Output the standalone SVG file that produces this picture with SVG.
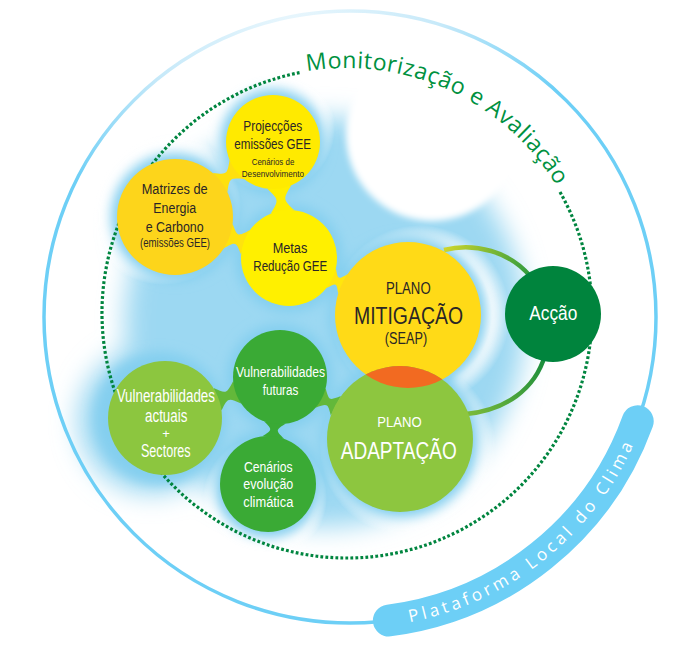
<svg xmlns="http://www.w3.org/2000/svg" width="697" height="646" viewBox="0 0 697 646">
<defs>
<style>
.t{font-family:"Liberation Sans",Arial,sans-serif;text-anchor:middle}
.dk{fill:#2A2626}
.wh{fill:#FFFFFF}
.mon{font-family:"Open Sans","Noto Sans",sans-serif;font-size:23px;fill:#00913F;letter-spacing:0.5px}
.plat{font-family:"Open Sans","Noto Sans",sans-serif;font-size:17px;fill:#FFFFFF;letter-spacing:3.7px}
</style>
<radialGradient id="outerGrad" gradientUnits="userSpaceOnUse" cx="290" cy="0" r="280">
<stop offset="0" stop-color="#EAF7FD"/>
<stop offset="0.55" stop-color="#C6E9F9"/>
<stop offset="1" stop-color="#6DCFF6"/>
</radialGradient>
<radialGradient id="halo">
<stop offset="0" stop-color="#FFFFFF"/>
<stop offset="0.8" stop-color="#FFFFFF"/>
<stop offset="1" stop-color="#FFFFFF" stop-opacity="0"/>
</radialGradient>
<linearGradient id="arcTop" gradientUnits="userSpaceOnUse" x1="444" y1="250" x2="530" y2="276">
<stop offset="0" stop-color="#CFD62B"/>
<stop offset="1" stop-color="#2E9B3E"/>
</linearGradient>
<linearGradient id="arcBot" gradientUnits="userSpaceOnUse" x1="545" y1="355" x2="466" y2="414">
<stop offset="0" stop-color="#168C3D"/>
<stop offset="1" stop-color="#7DBB3A"/>
</linearGradient>
<filter id="bl" x="-50%" y="-50%" width="200%" height="200%"><feGaussianBlur stdDeviation="13"/></filter>
<filter id="gl" x="-30%" y="-30%" width="160%" height="160%"><feGaussianBlur stdDeviation="6"/></filter>
<filter id="sb" x="-20%" y="-20%" width="140%" height="140%"><feGaussianBlur stdDeviation="3"/></filter>
<clipPath id="mitClip"><circle cx="408" cy="315" r="73"/></clipPath>
<path id="monPath" d="M307,71.3 A245,245 0 0 1 592,313"/>
<path id="platPath" d="M404,623.3 A311,311 0 0 0 650.4,397.5"/>
</defs>

<rect width="697" height="646" fill="#FFFFFF"/>

<g id="background">
<g filter="url(#bl)" fill="#9CD8F2">
<ellipse cx="325" cy="322" rx="200" ry="205"/>
<circle cx="185" cy="225" r="62"/>
<circle cx="152" cy="420" r="74"/>
</g>
<circle cx="432" cy="135" r="86" fill="#FFFFFF" filter="url(#sb)"/>
<circle cx="163" cy="207" r="78" fill="url(#halo)"/>
<circle cx="271" cy="128" r="64" fill="url(#halo)"/>
<circle cx="420" cy="315" r="90" fill="url(#halo)"/>
<circle cx="408" cy="448" r="88" fill="url(#halo)"/>
<circle cx="265" cy="498" r="62" fill="url(#halo)"/>
<g filter="url(#gl)" fill="#84CFEF">
<circle cx="175" cy="217" r="64"/>
<circle cx="273" cy="142" r="53"/>
<circle cx="289" cy="258" r="54"/>
<circle cx="408" cy="315" r="79"/>
<circle cx="160" cy="418" r="66"/>
<circle cx="280" cy="377" r="53"/>
<circle cx="268" cy="484" r="54"/>
<circle cx="400" cy="439" r="79"/>
</g>
</g>

<g id="frame">
<circle cx="350" cy="317" r="306" fill="none" stroke="url(#outerGrad)" stroke-width="3.5"/>
<path d="M560,192 A245,245 0 1 1 299.8,72.6" fill="none" stroke="#00853F" stroke-width="3.2" stroke-dasharray="2.8 2.2"/>
<text class="mon"><textPath href="#monPath">Monitorização</textPath></text>
<text class="mon"><textPath href="#monPath" startOffset="166.2">e</textPath></text>
<text class="mon"><textPath href="#monPath" startOffset="186.1">Avaliação</textPath></text>
<path d="M388.9,620.5 A306,306 0 0 0 637.7,421.2" fill="none" stroke="#6DCFF6" stroke-width="32" stroke-linecap="round"/>
<text class="plat"><textPath href="#platPath" startOffset="6">Plataforma</textPath></text>
<text class="plat"><textPath href="#platPath" startOffset="138.8">Local</textPath></text>
<text class="plat"><textPath href="#platPath" startOffset="206.4">do</textPath></text>
<text class="plat"><textPath href="#platPath" startOffset="242.6">Clima</textPath></text>
</g>

<g id="connectors">
<path d="M444,250 C475,242 510,252 530,276" fill="none" stroke="url(#arcTop)" stroke-width="4.5"/>
<path d="M545,355 C535,390 505,410 466,414" fill="none" stroke="url(#arcBot)" stroke-width="4.5"/>
<path d="M227.4,192.0 C229.6,177.8 229.6,177.8 244.2,179.2 L229.6,160.1 C227.2,174.6 227.2,174.6 212.8,173.0 Z" fill="#FEE00E"/>
<path d="M267.3,188.7 C279.0,199.8 279.0,199.8 270.8,213.6 L294.5,210.3 C282.9,199.2 282.9,199.2 291.1,185.4 Z" fill="#FFEE00"/>
<path d="M223.8,248.4 C235.9,241.5 235.9,241.5 241.1,254.6 L249.9,230.1 C237.6,236.8 237.6,236.8 232.6,223.9 Z" fill="#FEE30E"/>
<path d="M326.4,288.1 C336.6,282.5 336.6,282.5 338.2,293.7 L347.7,273.9 C337.9,279.8 337.9,279.8 335.9,268.3 Z" fill="#FFE60E"/>
<path d="M221.5,410.6 C227.9,397.7 227.9,397.7 241.2,403.6 L233.2,381.0 C226.5,393.9 226.5,393.9 213.5,388.0 Z" fill="#63B83A"/>
<path d="M264.0,421.2 C272.6,429.8 272.6,429.8 262.3,436.3 L284.1,438.8 C275.5,430.2 275.5,430.2 285.8,423.6 Z" fill="#3AAA35"/>
<path d="M315.5,407.7 C327.8,403.4 327.8,403.4 330.8,415.6 L340.9,396.1 C329.1,400.7 329.1,400.7 325.6,388.2 Z" fill="#63B83A"/>
</g>

<g id="node-projeccoes">
<circle cx="273" cy="142" r="47" fill="#FFEA00"/>
<text class="t dk" x="272.8" y="131" font-size="14" textLength="59" lengthAdjust="spacingAndGlyphs">Projecções</text>
<text class="t dk" x="272.7" y="149" font-size="14" textLength="76.7" lengthAdjust="spacingAndGlyphs">emissões GEE</text>
<text class="t dk" x="273" y="165" font-size="9.5" textLength="42.6" lengthAdjust="spacingAndGlyphs">Cenários de</text>
<text class="t dk" x="272.9" y="177.3" font-size="9.5" textLength="62.3" lengthAdjust="spacingAndGlyphs">Desenvolvimento</text>
</g>

<g id="node-matrizes">
<circle cx="175" cy="217" r="58" fill="#FDD51B"/>
<text class="t dk" x="174.7" y="194.3" font-size="15.5" textLength="66" lengthAdjust="spacingAndGlyphs">Matrizes de</text>
<text class="t dk" x="174.7" y="213.3" font-size="15.5" textLength="42.7" lengthAdjust="spacingAndGlyphs">Energia</text>
<text class="t dk" x="174.7" y="231.7" font-size="15.5" textLength="58" lengthAdjust="spacingAndGlyphs">e Carbono</text>
<text class="t dk" x="175" y="246.7" font-size="12" textLength="70" lengthAdjust="spacingAndGlyphs">(emissões GEE)</text>
</g>

<g id="node-metas">
<circle cx="289" cy="258" r="48" fill="#FFF000"/>
<text class="t dk" x="290" y="253" font-size="15.5" textLength="34.6" lengthAdjust="spacingAndGlyphs">Metas</text>
<text class="t dk" x="290.3" y="271.3" font-size="15.5" textLength="74" lengthAdjust="spacingAndGlyphs">Redução GEE</text>
</g>

<g id="node-mitigacao">
<circle cx="408" cy="315" r="73" fill="#FFDA17"/>
</g>

<g id="node-adaptacao">
<circle cx="400" cy="439" r="73" fill="#8DC63F"/>
<circle cx="400" cy="439" r="73" fill="#F26A21" clip-path="url(#mitClip)"/>
<text class="t wh" x="399.5" y="426.5" font-size="15.5" textLength="44.4" lengthAdjust="spacingAndGlyphs">PLANO</text>
<text class="t wh" x="398.7" y="458.5" font-size="24" textLength="116" lengthAdjust="spacingAndGlyphs">ADAPTAÇÃO</text>
</g>

<g id="node-mitigacao-label">
<text class="t dk" x="408.3" y="294" font-size="16" textLength="44.7" lengthAdjust="spacingAndGlyphs">PLANO</text>
<text class="t dk" x="408.5" y="324.3" font-size="23" textLength="109" lengthAdjust="spacingAndGlyphs">MITIGAÇÃO</text>
<text class="t dk" x="406" y="344" font-size="16" textLength="42.3" lengthAdjust="spacingAndGlyphs">(SEAP)</text>
</g>

<g id="node-accao">
<circle cx="553" cy="314" r="48" fill="#00843D"/>
<text class="t wh" x="553.3" y="320" font-size="21" textLength="48" lengthAdjust="spacingAndGlyphs">Acção</text>
</g>

<g id="node-vuln-actuais">
<circle cx="165" cy="418" r="57" fill="#8CC63F"/>
<text class="t wh" x="165.8" y="401.7" font-size="17.5" textLength="98.3" lengthAdjust="spacingAndGlyphs">Vulnerabilidades</text>
<text class="t wh" x="166.2" y="421.7" font-size="17.5" textLength="42.3" lengthAdjust="spacingAndGlyphs">actuais</text>
<text class="t wh" x="166" y="437.5" font-size="13">+</text>
<text class="t wh" x="165.8" y="456.7" font-size="17.5" textLength="49.7" lengthAdjust="spacingAndGlyphs">Sectores</text>
</g>

<g id="node-vuln-futuras">
<circle cx="280" cy="377" r="47" fill="#3AAA35"/>
<text class="t wh" x="280.5" y="377.3" font-size="15.5" textLength="89" lengthAdjust="spacingAndGlyphs">Vulnerabilidades</text>
<text class="t wh" x="280.5" y="395" font-size="15.5" textLength="35.6" lengthAdjust="spacingAndGlyphs">futuras</text>
</g>

<g id="node-cenarios">
<circle cx="268" cy="484" r="48" fill="#3AAA35"/>
<text class="t wh" x="268.3" y="471.7" font-size="15.4" textLength="48.7" lengthAdjust="spacingAndGlyphs">Cenários</text>
<text class="t wh" x="268.3" y="489" font-size="15.4" textLength="50" lengthAdjust="spacingAndGlyphs">evolução</text>
<text class="t wh" x="268.3" y="507.3" font-size="15.4" textLength="50" lengthAdjust="spacingAndGlyphs">climática</text>
</g>
</svg>
